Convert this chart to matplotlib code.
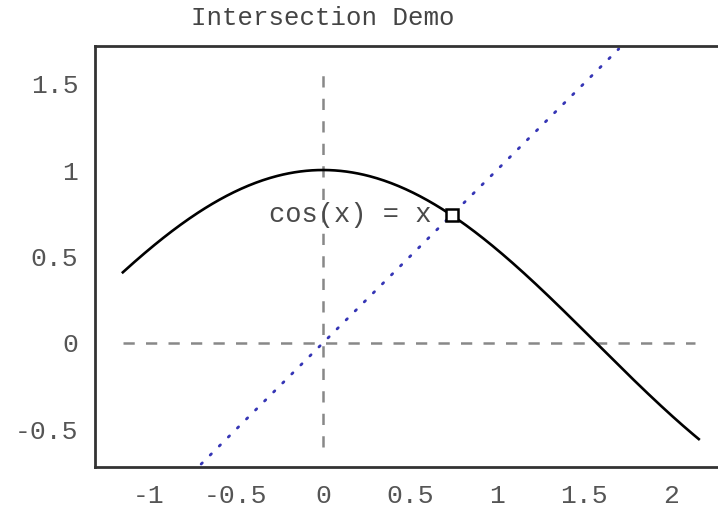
import numpy as np
import matplotlib
matplotlib.use("Agg")
import matplotlib.pyplot as plt

plt.rcParams['font.family'] = ['Liberation Mono', 'DejaVu Sans Mono']

# curve domain and reference lines
curve_x_range = [-1.15, 2.16]
diag_range = [-0.7, 1.7]
vline_y_range = [-0.6, 1.55]
hline_x_range = [-1.15, 2.14]
intersection = 0.739085
xticks = [-1, -0.5, 0, 0.5, 1, 1.5, 2]
yticks = [-0.5, 0, 0.5, 1, 1.5]
tick_labels_x = ['-1', '-0.5', '0', '0.5', '1', '1.5', '2']
tick_labels_y = ['-0.5', '0', '0.5', '1', '1.5']

fig = plt.figure(figsize=(7.18, 5.07), dpi=100)
ax = fig.add_axes([95 / 718, 1 - 467 / 507, (718 - 95 + 20) / 718, (467 - 46) / 507])

x = np.linspace(curve_x_range[0], curve_x_range[1], 400)
ax.plot(x, np.cos(x), color='black', lw=1.9, zorder=3)

ax.plot(diag_range, diag_range, color='#3535b5', lw=2.0, linestyle=(0, (0.6, 4.0)),
        dash_capstyle='round', zorder=2)

ax.plot([0, 0], vline_y_range, color='#888888', lw=1.8, linestyle=(0, (4.5, 4.5)), zorder=1)
ax.plot(hline_x_range, [0, 0], color='#888888', lw=1.8, linestyle=(0, (4.5, 4.5)), zorder=1)

ax.plot([intersection], [intersection], marker='s', markersize=8, markerfacecolor='white',
        markeredgecolor='black', markeredgewidth=1.8, zorder=4)
ax.text(intersection - 0.115, intersection, 'cos(x) = x', ha='right', va='center',
        fontsize=19.5, color='#4a4a4a', zorder=5)

ax.set_xlim(-1.31, -1.31 + (718 - 95 + 20) / 174)
ax.set_ylim(-0.717, 1.717)
ax.set_xticks(xticks)
ax.set_xticklabels(tick_labels_x)
ax.set_yticks(yticks)
ax.set_yticklabels(tick_labels_y)
ax.tick_params(length=0, labelsize=19, labelcolor='#555555', pad=12)

for side in ['left', 'top', 'bottom']:
    ax.spines[side].set_color('#333333')
    ax.spines[side].set_linewidth(2.0)
ax.spines['right'].set_visible(False)

fig.text(323 / 718, 1 - 18 / 507, 'Intersection Demo', ha='center', va='center',
         fontsize=18.5, color='#444444')

fig.savefig('out.png', dpi=100)
